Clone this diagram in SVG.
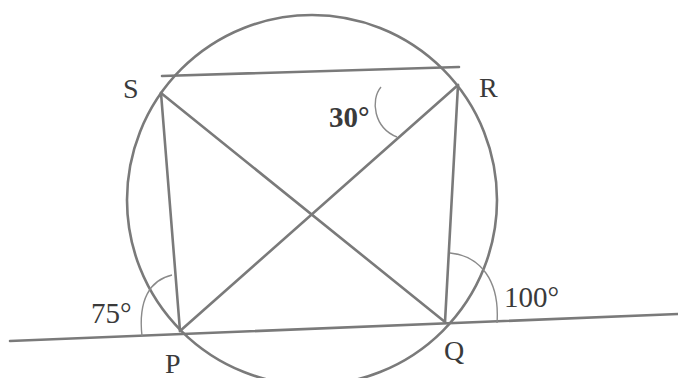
<svg xmlns="http://www.w3.org/2000/svg" width="678" height="378" viewBox="0 0 678 378">
<style>
.ln{stroke:#7a7a7a;stroke-width:2.6;fill:none;stroke-linecap:round}
.arc{stroke:#8a8a8a;stroke-width:1.4;fill:none}
.lbl{font-family:"Liberation Serif","DejaVu Serif",serif;font-size:28px;fill:#3a3a3a}
.ang{font-family:"Liberation Serif","DejaVu Serif",serif;font-size:29px;fill:#3a3a3a}
</style>
<rect width="678" height="378" fill="#ffffff"/>
<g id="circle"><circle class="ln" cx="312" cy="200" r="185"/></g>
<g id="lines">
<line class="ln" x1="162" y1="76" x2="459" y2="67"/>
<line class="ln" x1="10" y1="341" x2="678" y2="314"/>
<line class="ln" x1="161" y1="93" x2="180" y2="331"/>
<line class="ln" x1="161" y1="93" x2="445" y2="322"/>
<line class="ln" x1="180" y1="331" x2="458" y2="85"/>
<line class="ln" x1="458" y1="85" x2="445" y2="322"/>
</g>
<g id="arcs">
<path class="arc" d="M142,336 C138,300 150,280 172,275"/>
<path class="arc" d="M450,253 C480,256 500,280 497,323"/>
<path class="arc" d="M381,87 C370,100 374,128 397,137"/>
</g>
<g id="labels">
<text class="lbl" x="123" y="98">S</text>
<text class="lbl" x="479" y="97">R</text>
<text class="lbl" x="165" y="373">P</text>
<text class="lbl" x="444" y="360">Q</text>
<text class="ang" x="329" y="127" font-weight="bold">30°</text>
<text class="ang" x="91" y="323">75°</text>
<text class="ang" x="504" y="307">100°</text>
</g>
</svg>
